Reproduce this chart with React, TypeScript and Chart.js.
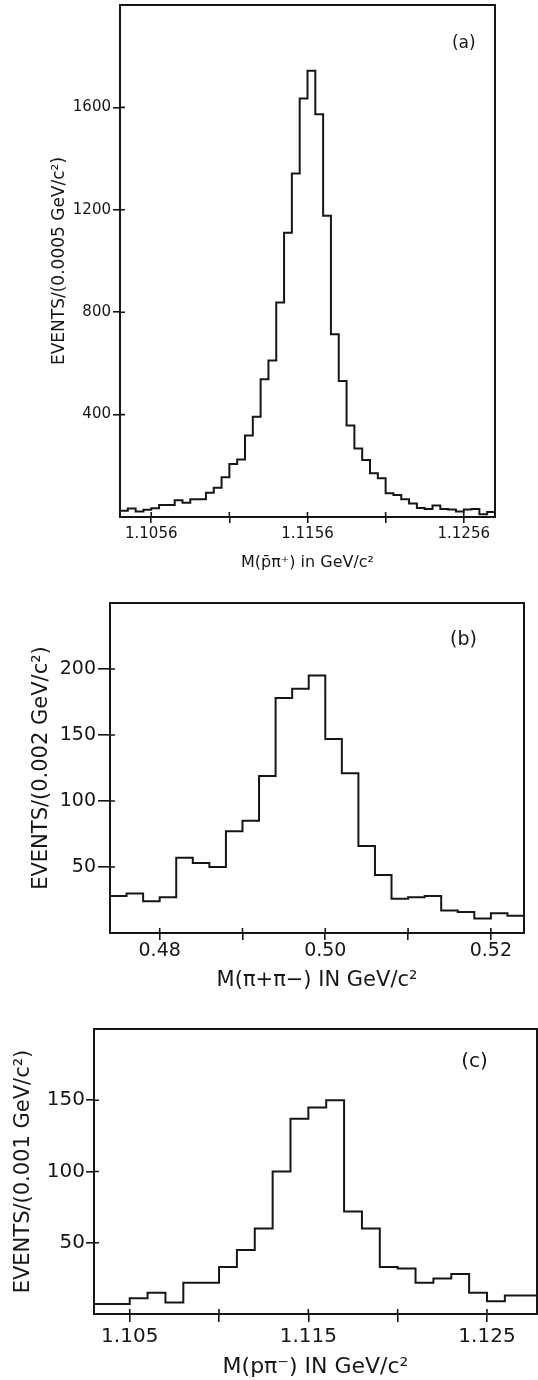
import React, { useEffect, useRef } from 'react';
import { Chart, registerables } from 'chart.js';

Chart.register(...registerables);

// ---------- Panel (a): M(p̄π+) ----------
const aBinStart = 1.1036;
const aBinWidth = 0.0005;
const aCounts = [
  24, 33, 21, 28, 34, 47, 47, 65, 56, 69, 69, 95, 114, 155, 207, 225,
  318, 392, 538, 611, 838, 1110, 1342, 1635, 1743, 1573, 1177, 714, 531, 357,
  268, 223, 171, 151, 93, 86, 69, 53, 35, 31, 45, 31, 29, 21, 29, 31, 11, 20,
];
const aXTicks = [1.1056, 1.1106, 1.1156, 1.1206, 1.1256];
const aXTickLabels = ['1.1056', '', '1.1156', '', '1.1256'];
const aYTicks = [400, 800, 1200, 1600];
const aYTickLabels = ['400', '800', '1200', '1600'];
const aXTitle = 'M(p\u0304\u03c0\u207a) in GeV/c\u00b2';
const aYTitle = 'EVENTS/(0.0005 GeV/c\u00b2)';
const aTag = '(a)';

// ---------- Panel (b): M(π+π-) ----------
const bBinStart = 0.474;
const bBinWidth = 0.002;
const bCounts = [
  28, 30, 24, 27, 57, 53, 50, 77, 85, 119, 178, 185, 195, 147, 121, 66,
  44, 26, 27, 28, 17, 16, 11, 15, 13,
];
const bXTicks = [0.48, 0.49, 0.5, 0.51, 0.52];
const bXTickLabels = ['0.48', '', '0.50', '', '0.52'];
const bYTicks = [50, 100, 150, 200];
const bYTickLabels = ['50', '100', '150', '200'];
const bXTitle = 'M(\u03c0+\u03c0\u2212) IN GeV/c\u00b2';
const bYTitle = 'EVENTS/(0.002 GeV/c\u00b2)';
const bTag = '(b)';

// ---------- Panel (c): M(pπ-) ----------
const cBinStart = 1.103;
const cBinWidth = 0.001;
const cCounts = [
  7, 7, 11, 15, 8, 22, 22, 33, 45, 60, 100, 137, 145, 150, 72, 60,
  33, 32, 22, 25, 28, 15, 9, 13, 13,
];
const cXTicks = [1.105, 1.11, 1.115, 1.12, 1.125];
const cXTickLabels = ['1.105', '', '1.115', '', '1.125'];
const cYTicks = [50, 100, 150];
const cYTickLabels = ['50', '100', '150'];
const cXTitle = 'M(p\u03c0\u207b) IN GeV/c\u00b2';
const cYTitle = 'EVENTS/(0.001 GeV/c\u00b2)';
const cTag = '(c)';

const INK = '#161616';
const FONT = "'DejaVu Sans', 'Liberation Sans', sans-serif";

const framePlugin = {
  id: 'frame',
  afterDatasetsDraw(chart: any, _args: any, opts: any) {
    const { ctx, chartArea } = chart;
    const { left, top, right, bottom } = chartArea;
    const xs = chart.scales.x;
    const ys = chart.scales.y;
    ctx.save();
    ctx.strokeStyle = INK;
    ctx.lineWidth = 2;
    ctx.strokeRect(left, top, right - left, bottom - top);
    ctx.lineWidth = 1.6;
    ctx.beginPath();
    xs.ticks.forEach((_t: any, i: number) => {
      const px = xs.getPixelForTick(i);
      ctx.moveTo(px, bottom);
      ctx.lineTo(px, bottom - opts.inner);
    });
    ys.ticks.forEach((_t: any, i: number) => {
      const py = ys.getPixelForTick(i);
      ctx.moveTo(left, py);
      ctx.lineTo(left + opts.inner, py);
    });
    ctx.stroke();
    ctx.fillStyle = INK;
    ctx.font = `${opts.tagSize}px ${FONT}`;
    ctx.textAlign = 'center';
    ctx.textBaseline = 'middle';
    ctx.fillText(opts.tag, xs.getPixelForValue(opts.tagX), ys.getPixelForValue(opts.tagY));
    ctx.restore();
  },
};

type PanelSpec = {
  binStart: number;
  binWidth: number;
  counts: number[];
  xMin: number;
  xMax: number;
  yMax: number;
  xTicks: number[];
  xTickLabels: string[];
  yTicks: number[];
  yTickLabels: string[];
  xTitle: string;
  yTitle: string;
  tag: string;
  tagX: number;
  tagY: number;
};

type PanelStyle = {
  top: number;
  height: number;
  areaLeft: number;
  areaRight: number;
  areaTop: number;
  areaBottom: number;
  yTickLen: number;
  yTickPad: number;
  xTickLen: number;
  xTickPad: number;
  tickSize: number;
  yTitleSize: number;
  yTitlePad: number;
  xTitleSize: number;
  xTitlePad: number;
  tagSize: number;
};

const W = 538;

function buildPoints(spec: PanelSpec) {
  const pts = spec.counts.map((c, i) => ({ x: spec.binStart + i * spec.binWidth, y: c }));
  pts.push({ x: spec.binStart + spec.counts.length * spec.binWidth, y: spec.counts[spec.counts.length - 1] });
  return pts;
}

function Panel({ spec, style }: { spec: PanelSpec; style: PanelStyle }) {
  const ref = useRef<HTMLCanvasElement>(null);
  useEffect(() => {
    if (!ref.current) return;
    const zeroPad = (s: any) => {
      s.paddingLeft = 0;
      s.paddingRight = 0;
      s.paddingTop = 0;
      s.paddingBottom = 0;
    };
    const chart = new Chart(ref.current, {
      type: 'line',
      data: {
        datasets: [
          {
            data: buildPoints(spec),
            stepped: 'before',
            borderColor: INK,
            borderWidth: 2,
            pointRadius: 0,
            fill: false,
          } as any,
        ],
      },
      options: {
        animation: false,
        responsive: false,
        devicePixelRatio: 1,
        events: [],
        layout: {
          padding: {
            left: 0,
            right: W - style.areaRight,
            top: style.areaTop,
            bottom: 0,
          },
        },
        plugins: {
          legend: { display: false },
          tooltip: { enabled: false },
          frame: { inner: 5, tag: spec.tag, tagX: spec.tagX, tagY: spec.tagY, tagSize: style.tagSize },
        } as any,
        scales: {
          x: {
            type: 'linear',
            min: spec.xMin,
            max: spec.xMax,
            afterBuildTicks: (s: any) => {
              s.ticks = spec.xTicks.map((v) => ({ value: v }));
            },
            afterFit: (s: any) => {
              s.height = style.height - style.areaBottom;
              zeroPad(s);
            },
            ticks: {
              autoSkip: false,
              maxRotation: 0,
              minRotation: 0,
              padding: style.xTickPad,
              color: INK,
              font: { family: FONT, size: style.tickSize },
              callback: (_v: any, i: number) => spec.xTickLabels[i],
            },
            grid: {
              drawOnChartArea: false,
              drawTicks: true,
              tickLength: style.xTickLen,
              color: INK,
              lineWidth: 1.6,
            },
            border: { display: false },
            title: {
              display: true,
              text: spec.xTitle,
              color: INK,
              font: { family: FONT, size: style.xTitleSize },
              padding: { top: 0, bottom: style.xTitlePad },
            },
          },
          y: {
            type: 'linear',
            min: 0,
            max: spec.yMax,
            afterBuildTicks: (s: any) => {
              s.ticks = spec.yTicks.map((v) => ({ value: v }));
            },
            afterFit: (s: any) => {
              s.width = style.areaLeft;
              zeroPad(s);
            },
            ticks: {
              autoSkip: false,
              padding: style.yTickPad,
              color: INK,
              font: { family: FONT, size: style.tickSize },
              callback: (_v: any, i: number) => spec.yTickLabels[i],
            },
            grid: {
              drawOnChartArea: false,
              drawTicks: true,
              tickLength: style.yTickLen,
              color: INK,
              lineWidth: 1.6,
            },
            border: { display: false },
            title: {
              display: true,
              text: spec.yTitle,
              color: INK,
              font: { family: FONT, size: style.yTitleSize },
              padding: { top: style.yTitlePad, bottom: 0 },
            },
          },
        },
      },
      plugins: [framePlugin],
    });
    return () => chart.destroy();
  }, [spec, style]);
  return (
    <canvas
      ref={ref}
      width={W}
      height={style.height}
      style={{ position: 'absolute', left: 0, top: style.top, width: W, height: style.height }}
    />
  );
}

const specA: PanelSpec = {
  binStart: aBinStart, binWidth: aBinWidth, counts: aCounts,
  xMin: 1.1036, xMax: 1.1276, yMax: 2000,
  xTicks: aXTicks, xTickLabels: aXTickLabels, yTicks: aYTicks, yTickLabels: aYTickLabels,
  xTitle: aXTitle, yTitle: aYTitle, tag: aTag, tagX: 1.1256, tagY: 1850,
};
const styleA: PanelStyle = {
  top: 0, height: 590, areaLeft: 120, areaRight: 495, areaTop: 5, areaBottom: 517,
  yTickLen: 7, yTickPad: 2, xTickLen: 6, xTickPad: 2, tickSize: 15,
  yTitleSize: 17, yTitlePad: 49, xTitleSize: 16, xTitlePad: 18, tagSize: 17,
};

const specB: PanelSpec = {
  binStart: bBinStart, binWidth: bBinWidth, counts: bCounts,
  xMin: 0.474, xMax: 0.524, yMax: 250,
  xTicks: bXTicks, xTickLabels: bXTickLabels, yTicks: bYTicks, yTickLabels: bYTickLabels,
  xTitle: bXTitle, yTitle: bYTitle, tag: bTag, tagX: 0.5167, tagY: 222,
};
const styleB: PanelStyle = {
  top: 590, height: 410, areaLeft: 110, areaRight: 524, areaTop: 13, areaBottom: 343,
  yTickLen: 12, yTickPad: 2, xTickLen: 7, xTickPad: 0, tickSize: 19,
  yTitleSize: 21, yTitlePad: 29, xTitleSize: 21, xTitlePad: 7, tagSize: 19,
};

const specC: PanelSpec = {
  binStart: cBinStart, binWidth: cBinWidth, counts: cCounts,
  xMin: 1.103, xMax: 1.1278, yMax: 200,
  xTicks: cXTicks, xTickLabels: cXTickLabels, yTicks: cYTicks, yTickLabels: cYTickLabels,
  xTitle: cXTitle, yTitle: cYTitle, tag: cTag, tagX: 1.1243, tagY: 177,
};
const styleC: PanelStyle = {
  top: 1000, height: 380, areaLeft: 94, areaRight: 537, areaTop: 29, areaBottom: 314,
  yTickLen: 8, yTickPad: 1, xTickLen: 8, xTickPad: 3, tickSize: 20,
  yTitleSize: 21, yTitlePad: 11, xTitleSize: 22, xTitlePad: 0, tagSize: 20,
};

export default function App() {
  return (
    <div style={{ position: 'absolute', left: 0, top: 0, width: W, height: 1380, background: '#fff', overflow: 'hidden' }}>
      <Panel spec={specA} style={styleA} />
      <Panel spec={specB} style={styleB} />
      <Panel spec={specC} style={styleC} />
    </div>
  );
}
